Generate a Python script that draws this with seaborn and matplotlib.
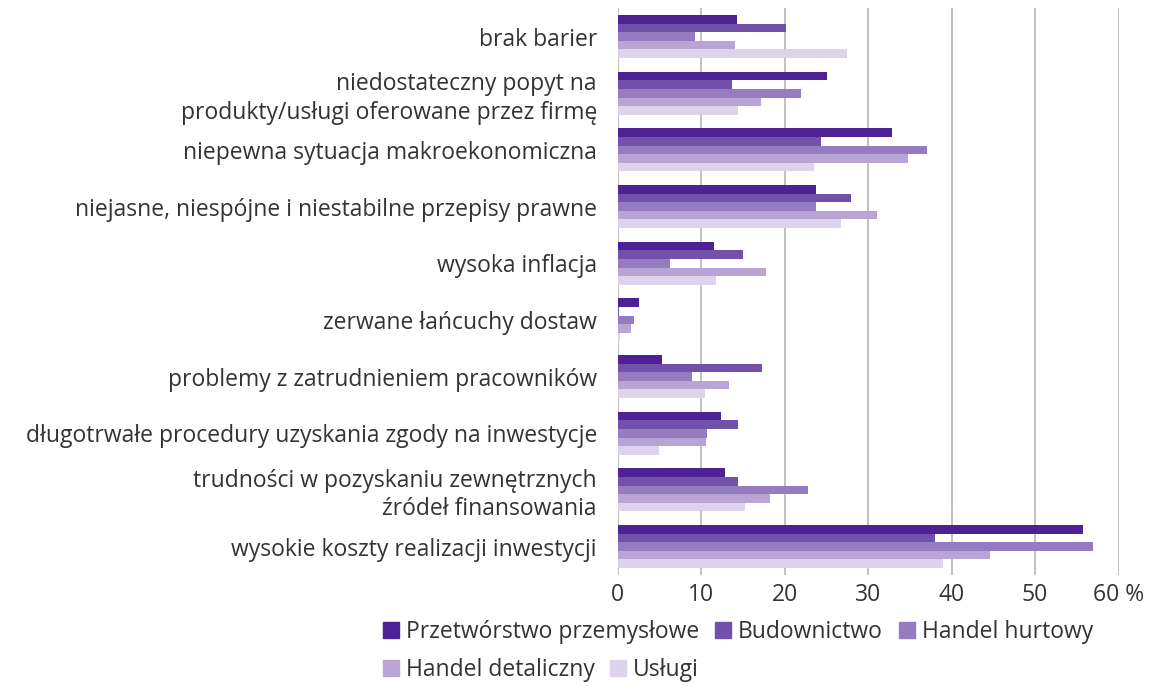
import pandas as pd
import matplotlib.pyplot as plt
import seaborn as sns
from matplotlib.lines import Line2D

categories = [
    "brak barier",
    "niedostateczny popyt na\nprodukty/usługi oferowane przez firmę",
    "niepewna sytuacja makroekonomiczna",
    "niejasne, niespójne i niestabilne przepisy prawne",
    "wysoka inflacja",
    "zerwane łańcuchy dostaw",
    "problemy z zatrudnieniem pracowników",
    "długotrwałe procedury uzyskania zgody na inwestycje",
    "trudności w pozyskaniu zewnętrznych\nźródeł finansowania",
    "wysokie koszty realizacji inwestycji",
]
sectors = ["Przetwórstwo przemysłowe", "Budownictwo", "Handel hurtowy",
           "Handel detaliczny", "Usługi"]

przetworstwo = [14.3, 25.1, 32.9, 23.8, 11.5, 2.5, 5.3, 12.4, 12.9, 55.7]
budownictwo = [20.2, 13.7, 24.3, 27.9, 15.0, 0.2, 17.3, 14.4, 14.4, 38.0]
hurt = [9.3, 22.0, 37.0, 23.8, 6.2, 1.9, 8.9, 10.7, 22.8, 57.0]
detal = [14.0, 17.2, 34.8, 31.1, 17.8, 1.6, 13.3, 10.6, 18.2, 44.6]
uslugi = [27.5, 14.4, 23.5, 26.7, 11.8, 0.3, 10.4, 4.9, 15.3, 39.0]

colors = ["#4e2295", "#7251aa", "#957bc0", "#b9a5d5", "#ddd3eb"]

rows = []
for name, vals in zip(sectors, [przetworstwo, budownictwo, hurt, detal, uslugi]):
    for cat, v in zip(categories, vals):
        rows.append({"kategoria": cat, "sektor": name, "wartosc": v})
df = pd.DataFrame(rows)

sns.set_theme(style="white")
plt.rcParams["font.family"] = ["Open Sans", "DejaVu Sans"]
text_color = "#333333"
fs = 16.5

fig = plt.figure(figsize=(11.7, 6.86), dpi=100)
ax = fig.add_axes([0.528, 0.162, 0.428, 0.826])

sns.barplot(data=df, y="kategoria", x="wartosc", hue="sektor", orient="h",
            palette=colors, saturation=1, width=0.76, linewidth=0,
            ax=ax, legend=False, hue_order=sectors, order=categories)

ax.set_xlim(0, 60)
ax.set_ylim(9.5, -0.5)
ax.set_xticks(range(0, 61, 10))
ax.set_xticklabels(["0", "10", "20", "30", "40", "50", "60 %"])
ax.grid(axis="x", color="#b5b5b5", linewidth=1.2)
ax.set_axisbelow(True)
for s in ax.spines.values():
    s.set_visible(False)
ax.set_xlabel("")
ax.set_ylabel("")
ax.tick_params(axis="both", length=0, labelsize=fs, colors=text_color)
ax.tick_params(axis="x", pad=6)
ax.tick_params(axis="y", pad=15)
for lbl in ax.get_yticklabels():
    lbl.set_linespacing(1.25)

handles = [Line2D([], [], marker="s", linestyle="none", markersize=11,
                  markerfacecolor=c, markeredgecolor=c) for c in colors]
leg_kw = dict(frameon=False, fontsize=fs, handletextpad=0.3,
              columnspacing=0.7, labelcolor=text_color, borderaxespad=0,
              borderpad=0, handlelength=0.7, loc="center left")
fig.legend(handles[:3], sectors[:3], ncol=3,
           bbox_to_anchor=(0.327, 0.079), **leg_kw)
fig.legend(handles[3:], sectors[3:], ncol=2,
           bbox_to_anchor=(0.327, 0.024), **leg_kw)

fig.savefig("out.png", dpi=100)
